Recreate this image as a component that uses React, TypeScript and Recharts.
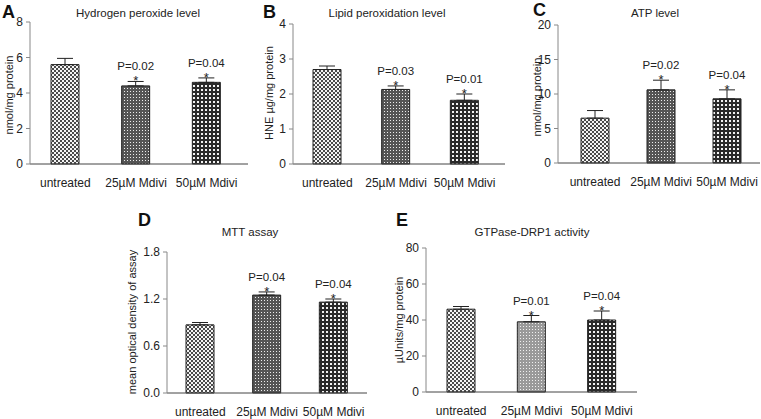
import React from "react"
import { BarChart, Bar, XAxis, YAxis, ErrorBar, Cell, LabelList } from "recharts"

const categories = ["untreated", "25µM Mdivi", "50µM Mdivi"]

// A - hydrogen peroxide
const h2o2Values = [5.6, 4.4, 4.6]
const h2o2Errors = [0.35, 0.25, 0.25]
const h2o2PValues = ["", "P=0.02", "P=0.04"]
const h2o2Ticks = [0, 2, 4, 6, 8]

// B - lipid peroxidation
const lipidValues = [2.7, 2.13, 1.82]
const lipidErrors = [0.1, 0.1, 0.18]
const lipidPValues = ["", "P=0.03", "P=0.01"]
const lipidTicks = [0, 1, 2, 3, 4]

// C - ATP
const atpValues = [6.5, 10.6, 9.3]
const atpErrors = [1.1, 1.4, 1.3]
const atpPValues = ["", "P=0.02", "P=0.04"]
const atpTicks = [0, 5, 10, 15, 20]

// D - MTT
const mttValues = [0.87, 1.25, 1.16]
const mttErrors = [0.03, 0.04, 0.04]
const mttPValues = ["", "P=0.04", "P=0.04"]
const mttTicks = [0, 0.6, 1.2, 1.8]

// E - GTPase-DRP1
const drpValues = [46, 39, 40]
const drpErrors = [1.5, 3.5, 5]
const drpPValues = ["", "P=0.01", "P=0.04"]
const drpTicks = [0, 20, 40, 60, 80]

const FONT = "'Liberation Sans', Arial, sans-serif"
const INK = "#222"

type Box = { x0: number; y0: number; x1: number; y1: number }

interface PanelProps {
  letter: string
  letterPos: [number, number]
  title: string
  titlePos: [number, number]
  yLabel: string
  yLabelPos: [number, number]
  values: number[]
  errors: number[]
  pValues: string[]
  ticks: number[]
  digits?: number
  fills: string[]
  box: Box
  padding?: { left?: number; right?: number }
}

function Panel(props: PanelProps) {
  const { letter, letterPos, title, titlePos, yLabel, yLabelPos, values, errors, pValues, ticks, digits = 0, fills, box, padding } = props
  const data = categories.map((name, i) => ({ name, value: values[i], err: [0, errors[i]], p: pValues[i] }))
  const axisW = 30
  const top = 10
  const xAxisH = 30
  const left = box.x0 - axisW
  const width = box.x1 - box.x0 + axisW + 2
  const height = box.y1 - box.y0 + top + xAxisH

  // star + p value sit just above the error bar cap
  const renderSig = (lp: any) => {
    const i = lp.index
    if (!pValues[i]) return null
    const x = Number(lp.x), y = Number(lp.y), w = Number(lp.width), h = Number(lp.height)
    const errTop = y - (errors[i] * h) / values[i]
    const cx = x + w / 2
    return (
      <g>
        <text x={cx} y={errTop - 11} textAnchor="middle" fontSize={11.5} fill={INK} fontFamily={FONT}>{pValues[i]}</text>
        <text x={cx} y={errTop + 4} textAnchor="middle" fontSize={13} fill={INK} fontFamily={FONT}>*</text>
      </g>
    )
  }

  return (
    <>
      <div style={{ position: "absolute", left: letterPos[0], top: letterPos[1], fontSize: 18, fontWeight: "bold", lineHeight: 1, fontFamily: FONT, color: "#111" }}>{letter}</div>
      <div style={{ position: "absolute", left: titlePos[0] - 100, width: 200, top: titlePos[1], textAlign: "center", fontSize: 11.5, lineHeight: 1, fontFamily: FONT, color: INK }}>{title}</div>
      <div style={{ position: "absolute", left: yLabelPos[0], top: yLabelPos[1], transform: "translate(-50%, -50%) rotate(-90deg)", whiteSpace: "nowrap", fontSize: 11, lineHeight: 1, fontFamily: FONT, color: INK }}>{yLabel}</div>
      <div style={{ position: "absolute", left, top: box.y0 - top }}>
        <BarChart width={width} height={height} data={data} margin={{ top, left: 0, right: 2, bottom: 0 }} barSize={28}>
          <XAxis
            dataKey="name"
            interval={0}
            height={xAxisH}
            tickLine={false}
            tickMargin={8}
            axisLine={{ stroke: "#444" }}
            tick={{ fontSize: 12, fill: INK, fontFamily: FONT }}
            padding={padding}
          />
          <YAxis
            width={axisW}
            domain={[0, ticks[ticks.length - 1]]}
            ticks={ticks}
            tickSize={4}
            tickMargin={3}
            axisLine={{ stroke: "#888" }}
            tickLine={{ stroke: "#888" }}
            tick={{ fontSize: 12, fill: INK, fontFamily: FONT }}
            tickFormatter={(v: number) => v.toFixed(digits)}
          />
          <Bar dataKey="value" stroke="#222" strokeWidth={1} isAnimationActive={false}>
            {data.map((d, i) => (
              <Cell key={d.name} fill={fills[i]} />
            ))}
            <ErrorBar dataKey="err" direction="y" width={8} stroke="#222" strokeWidth={1} />
            <LabelList dataKey="p" content={renderSig} />
          </Bar>
        </BarChart>
      </div>
    </>
  )
}

const checker = "url(#chk)"
const darkDots = "url(#dk)"
const grid = "url(#grd)"
const lightDots = "url(#lt)"

export default function App() {
  return (
    <div style={{ position: "absolute", left: 0, top: 0, width: 761, height: 419, background: "#fff", overflow: "hidden" }}>
      <svg width={0} height={0} style={{ position: "absolute" }}>
        <defs>
          <pattern id="chk" width={4} height={4} patternUnits="userSpaceOnUse">
            <rect width={4} height={4} fill="#f4f4f4" />
            <rect x={0} y={0} width={2} height={2} fill="#4a4a4a" />
            <rect x={2} y={2} width={2} height={2} fill="#4a4a4a" />
          </pattern>
          <pattern id="dk" width={3} height={3} patternUnits="userSpaceOnUse">
            <rect width={3} height={3} fill="#555" />
            <rect x={1} y={1} width={1} height={1} fill="#eee" />
          </pattern>
          <pattern id="grd" width={4} height={4} patternUnits="userSpaceOnUse">
            <rect width={4} height={4} fill="#2a2a2a" />
            <rect x={1} y={1} width={2} height={2} fill="#f2f2f2" />
          </pattern>
          <pattern id="lt" width={3} height={3} patternUnits="userSpaceOnUse">
            <rect width={3} height={3} fill="#9a9a9a" />
            <rect x={1} y={1} width={1} height={1} fill="#f0f0f0" />
          </pattern>
        </defs>
      </svg>
      <Panel
        letter="A" letterPos={[2, 3]}
        title="Hydrogen peroxide level" titlePos={[138, 8]}
        yLabel="nmol/mg protein" yLabelPos={[9, 95]}
        values={h2o2Values} errors={h2o2Errors} pValues={h2o2PValues} ticks={h2o2Ticks}
        fills={[checker, darkDots, grid]}
        box={{ x0: 30, y0: 22, x1: 248, y1: 164 }}
        padding={{ right: 6 }}
      />
      <Panel
        letter="B" letterPos={[263, 3]}
        title="Lipid peroxidation level" titlePos={[387, 8]}
        yLabel="HNE µg/mg protein" yLabelPos={[269, 93]}
        values={lipidValues} errors={lipidErrors} pValues={lipidPValues} ticks={lipidTicks}
        fills={[checker, darkDots, grid]}
        box={{ x0: 293, y0: 24, x1: 505, y1: 164 }}
        padding={{ right: 6 }}
      />
      <Panel
        letter="C" letterPos={[533, 1]}
        title="ATP level" titlePos={[655, 8]}
        yLabel="nmol/mg protein" yLabelPos={[537, 97]}
        values={atpValues} errors={atpErrors} pValues={atpPValues} ticks={atpTicks}
        fills={[checker, darkDots, grid]}
        box={{ x0: 558, y0: 25, x1: 760, y1: 163 }}
        padding={{ left: 4 }}
      />
      <Panel
        letter="D" letterPos={[138, 211]}
        title="MTT assay" titlePos={[250, 227]}
        yLabel="mean optical density of assay" yLabelPos={[132, 322]}
        values={mttValues} errors={mttErrors} pValues={mttPValues} ticks={mttTicks} digits={1}
        fills={[checker, darkDots, grid]}
        box={{ x0: 167, y0: 252, x1: 367, y1: 393 }}
      />
      <Panel
        letter="E" letterPos={[396, 211]}
        title="GTPase-DRP1 activity" titlePos={[532, 227]}
        yLabel="µUnits/mg protein" yLabelPos={[399, 320]}
        values={drpValues} errors={drpErrors} pValues={drpPValues} ticks={drpTicks}
        fills={[checker, lightDots, grid]}
        box={{ x0: 426, y0: 248, x1: 637, y1: 392 }}
      />
    </div>
  )
}
